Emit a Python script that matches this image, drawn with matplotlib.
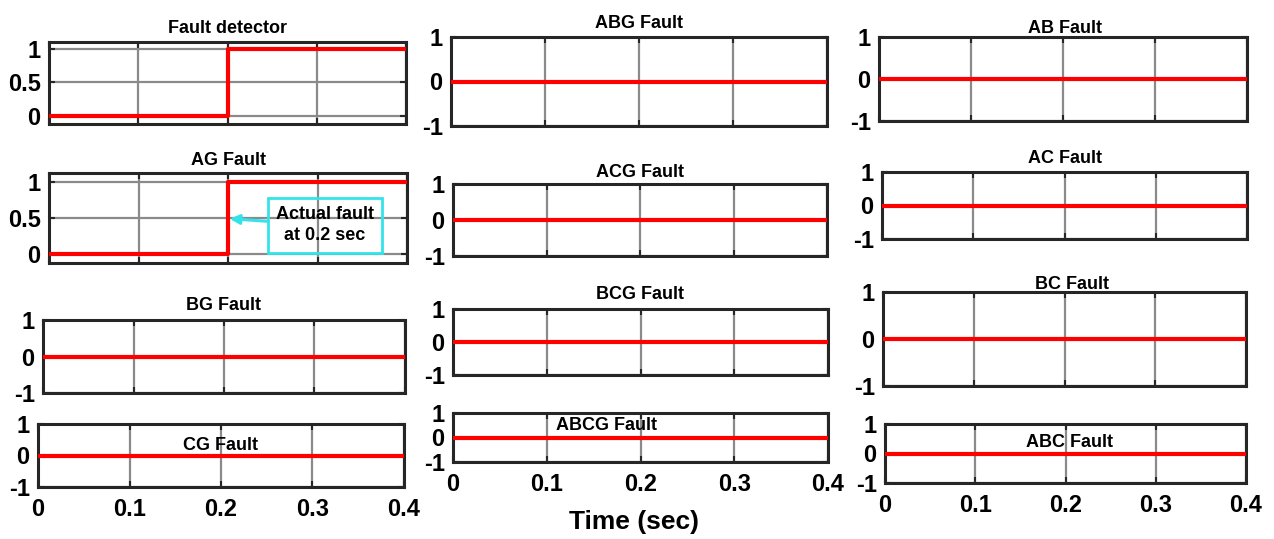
import numpy as np
import matplotlib
matplotlib.use("Agg")
import matplotlib.pyplot as plt

plt.rcParams['font.family'] = ['Liberation Sans', 'DejaVu Sans']
plt.rcParams['font.weight'] = 'bold'
plt.rcParams['axes.unicode_minus'] = False

# data: time axis and fault flags (0 = no fault, 1 = fault)
t = [0.0, 0.2, 0.2, 0.4]
detector = [0, 0, 1, 1]
ag = [0, 0, 1, 1]
no_fault = [0, 0, 0, 0]

names = ['Fault detector', 'AG Fault', 'BG Fault', 'CG Fault',
         'ABG Fault', 'ACG Fault', 'BCG Fault', 'ABCG Fault',
         'AB Fault', 'AC Fault', 'BC Fault', 'ABC Fault']
series = [detector, ag, no_fault, no_fault,
          no_fault, no_fault, no_fault, no_fault,
          no_fault, no_fault, no_fault, no_fault]

xticks = [0, 0.1, 0.2, 0.3, 0.4]
xtick_labels = ['0', '0.1', '0.2', '0.3', '0.4']
yticks_flag = [0, 0.5, 1]
ytick_labels_flag = ['0', '0.5', '1']
yticks_zero = [-1, 0, 1]
ytick_labels_zero = ['-1', '0', '1']

fault_time = 0.2

# layout in pixels: left, top, right, bottom, title x frac, title baseline frac
W, H = 1274, 539
layout = [
    (49, 42, 406, 124, 0.5, 1.11),
    (49, 173, 407, 263, 0.5, 1.089),
    (43, 320, 405, 393, 0.5, 1.137),
    (38, 424, 404, 487, 0.5, 0.587),
    (451, 37, 827, 126, 0.5, 1.101),
    (453, 184, 827, 256, 0.5, 1.097),
    (453, 309, 828, 375, 0.5, 1.152),
    (453, 413, 828, 462, 0.41, 0.653),
    (879, 37, 1247, 121, 0.505, 1.048),
    (882, 172, 1247, 239, 0.5, 1.134),
    (883, 292, 1246, 386, 0.52, 1.032),
    (885, 424, 1246, 483, 0.51, 0.61),
]
ylims = [(-0.12, 1.1), (-0.125, 1.125)] + [(-1, 1)] * 10
bottom_row = [3, 7, 11]

fig = plt.figure(figsize=(W / 100, H / 100), dpi=100)
axes = []
for i, (l, tp, r, b, tx, ty) in enumerate(layout):
    ax = fig.add_axes([l / W, 1 - b / H, (r - l) / W, (b - tp) / H])
    ax.plot(t, series[i], color='#ff0000', lw=3, zorder=3)
    ax.set_xlim(0, 0.4)
    ax.set_ylim(*ylims[i])
    ax.set_xticks(xticks)
    if i in bottom_row:
        ax.set_xticklabels(xtick_labels)
    else:
        ax.set_xticklabels([])
    if i < 2:
        ax.set_yticks(yticks_flag)
        ax.set_yticklabels(ytick_labels_flag)
    else:
        ax.set_yticks(yticks_zero)
        ax.set_yticklabels(ytick_labels_zero)
    ax.grid(True, color='#8a8a8a', lw=1.6)
    ax.tick_params(direction='in', length=4, width=1.5, top=True, right=True,
                   labelsize=17, pad=6, colors='#262626', labelcolor='black')
    ax.tick_params(axis='x', pad=8)
    for s in ax.spines.values():
        s.set_linewidth(2.2)
        s.set_color('#262626')
    ax.text(tx, ty, names[i], transform=ax.transAxes, ha='center', va='baseline',
            fontsize=13, fontweight='bold', zorder=5)
    axes.append(ax)

# annotation on AG Fault
cyan = '#33e3ea'
axes[1].annotate('Actual fault\nat 0.2 sec', xy=(fault_time + 0.002, 0.49), xytext=(0.308, 0.40),
                 ha='center', va='center', multialignment='center', fontsize=13, fontweight='bold',
                 linespacing=1.35,
                 bbox=dict(boxstyle='square,pad=0.45', fc='none', ec=cyan, lw=2),
                 arrowprops=dict(arrowstyle='-|>', color=cyan, lw=2.2, mutation_scale=14,
                                 shrinkA=0, shrinkB=0), zorder=6)

fig.text(0.498, 0.018, 'Time (sec)', ha='center', va='baseline', fontsize=19, fontweight='bold')

fig.savefig('out.png', dpi=100)
